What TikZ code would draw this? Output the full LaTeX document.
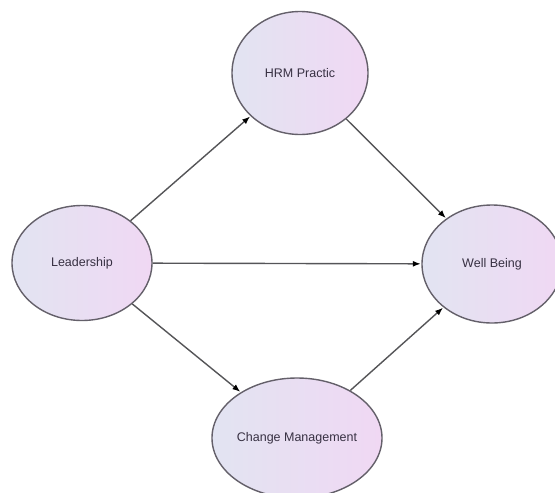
\documentclass[tikz,border=0pt]{standalone}
\usepackage{fontspec}
\setmainfont{Liberation Sans}
\usetikzlibrary{shapes.geometric,arrows.meta}
\definecolor{leftc}{RGB}{226,228,242}
\definecolor{rightc}{RGB}{240,216,243}
\definecolor{edgec}{RGB}{100,96,106}
\definecolor{linec}{RGB}{85,85,88}
\definecolor{txtc}{RGB}{55,48,66}
\tikzset{
  oval/.style={ellipse, draw=edgec, line width=1.4pt, inner sep=0pt,
    left color=leftc, right color=rightc, text=txtc,
    font=\fontsize{12.5}{14}\selectfont},
  link/.style={draw=linec, line width=1.4pt,
    -{Latex[length=8pt,width=6pt,black]}, shorten >=0.5pt}
}
\begin{document}
\begin{tikzpicture}[x=1pt,y=-1pt]
\useasboundingbox (0,0) rectangle (555,493);
\fill[white] (0,0) rectangle (555,493);
\node[oval, minimum width=136pt, minimum height=123pt] (hrm) at (300,73) {HRM Practic};
\node[oval, minimum width=140pt, minimum height=115pt] (lead) at (82,263) {Leadership};
\node[oval, minimum width=140pt, minimum height=118pt] (well) at (492,264) {Well Being};
\node[oval, minimum width=144pt, minimum height=120pt] (chg) at (297,438) {Change Management};
\draw[link] (lead) -- (hrm);
\draw[link] (hrm) -- (well);
\draw[link] (lead) -- (well);
\draw[link] (lead) -- (chg);
\draw[link] (chg) -- (well);
\end{tikzpicture}
\end{document}
